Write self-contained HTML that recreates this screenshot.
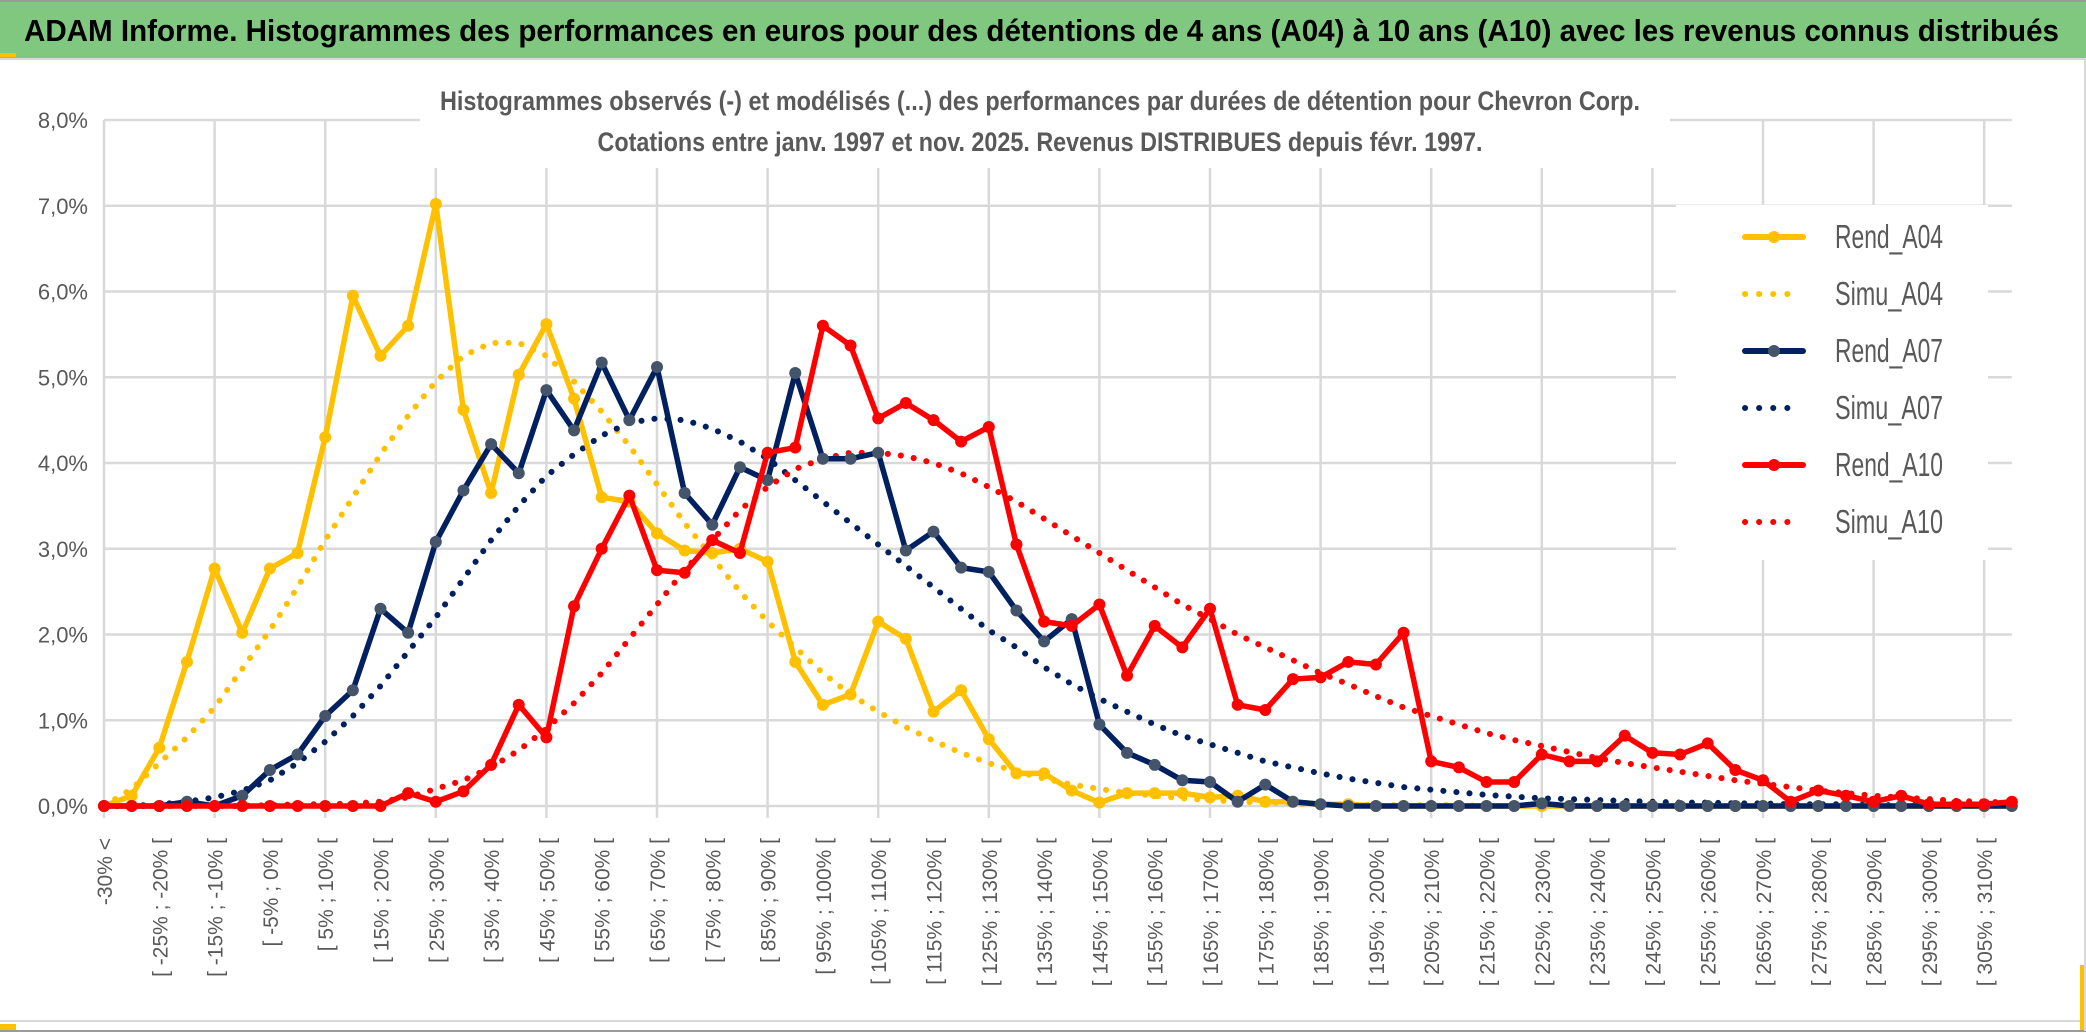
<!DOCTYPE html>
<html><head><meta charset="utf-8">
<style>
html,body{margin:0;padding:0;background:#fff;}
svg{display:block;}
text{font-family:"Liberation Sans Narrow","Liberation Sans",sans-serif;}
</style></head>
<body>
<svg id="chart" width="2086" height="1033" viewBox="0 0 2086 1033" xmlns="http://www.w3.org/2000/svg">
  <rect x="0" y="0" width="2086" height="1033" fill="#fff"/>
  <rect x="0" y="2" width="2086" height="56" fill="#80C77F"/>
  <line x1="0" y1="1" x2="2086" y2="1" stroke="#9a9a9a" stroke-width="2"/>
  <rect x="0" y="53" width="16" height="4" fill="#FFC000"/>
  <line x1="0" y1="59" x2="2086" y2="59" stroke="#d9d9d9" stroke-width="2"/>
  <text x="24" y="41" font-size="31" font-weight="bold" fill="#000" textLength="2035" lengthAdjust="spacingAndGlyphs">ADAM Informe. Histogrammes des performances en euros pour des détentions de 4 ans (A04) à 10 ans (A10) avec les revenus connus distribués</text>
  <line x1="0" y1="1021" x2="2086" y2="1021" stroke="#d9d9d9" stroke-width="2"/>
  <line x1="0" y1="1031" x2="2086" y2="1031" stroke="#9a9a9a" stroke-width="2"/>
  <rect x="0" y="1024" width="16" height="6" fill="#FFC000"/>
  <rect x="2080" y="965" width="6" height="65" fill="#FFC000"/>
  <line x1="2085" y1="58" x2="2085" y2="1031" stroke="#d9d9d9" stroke-width="2"/>
  <g id="grid"></g>
  <rect x="420" y="78" width="1250" height="90" fill="#fff"/>
  <rect x="1676" y="205" width="312" height="355" fill="#fff"/>
  <text x="1040" y="110" font-size="27" font-weight="bold" fill="#595959" text-anchor="middle" textLength="1200" lengthAdjust="spacingAndGlyphs">Histogrammes observés (-) et modélisés (...) des performances par durées de détention pour Chevron Corp.</text>
  <text x="1040" y="151" font-size="27" font-weight="bold" fill="#595959" text-anchor="middle" textLength="885" lengthAdjust="spacingAndGlyphs">Cotations entre janv. 1997 et nov. 2025. Revenus DISTRIBUES depuis févr. 1997.</text>
  <g id="yaxis"></g>
  <g id="xaxis"></g>
  <g id="series"></g>
  <g id="legend"></g>
</svg>
<script>
const categories = ["-30% <","[ -30% ; -25% [","[ -25% ; -20% [","[ -20% ; -15% [","[ -15% ; -10% [","[ -10% ; -5% [","[ -5% ; 0% [","[ 0% ; 5% [","[ 5% ; 10% [","[ 10% ; 15% [",
"[ 15% ; 20% [","[ 20% ; 25% [","[ 25% ; 30% [","[ 30% ; 35% [","[ 35% ; 40% [","[ 40% ; 45% [","[ 45% ; 50% [","[ 50% ; 55% [","[ 55% ; 60% [","[ 60% ; 65% [",
"[ 65% ; 70% [","[ 70% ; 75% [","[ 75% ; 80% [","[ 80% ; 85% [","[ 85% ; 90% [","[ 90% ; 95% [","[ 95% ; 100% [","[ 100% ; 105% [","[ 105% ; 110% [","[ 110% ; 115% [",
"[ 115% ; 120% [","[ 120% ; 125% [","[ 125% ; 130% [","[ 130% ; 135% [","[ 135% ; 140% [","[ 140% ; 145% [","[ 145% ; 150% [","[ 150% ; 155% [","[ 155% ; 160% [","[ 160% ; 165% [",
"[ 165% ; 170% [","[ 170% ; 175% [","[ 175% ; 180% [","[ 180% ; 185% [","[ 185% ; 190% [","[ 190% ; 195% [","[ 195% ; 200% [","[ 200% ; 205% [","[ 205% ; 210% [","[ 210% ; 215% [",
"[ 215% ; 220% [","[ 220% ; 225% [","[ 225% ; 230% [","[ 230% ; 235% [","[ 235% ; 240% [","[ 240% ; 245% [","[ 245% ; 250% [","[ 250% ; 255% [","[ 255% ; 260% [","[ 260% ; 265% [",
"[ 265% ; 270% [","[ 270% ; 275% [","[ 275% ; 280% [","[ 280% ; 285% [","[ 285% ; 290% [","[ 290% ; 295% [","[ 295% ; 300% [","[ 300% ; 305% [","[ 305% ; 310% [","[ 310% ; 315% ["];
const yTicks = [0,1,2,3,4,5,6,7,8];
const yTickLabels = ["0,0%","1,0%","2,0%","3,0%","4,0%","5,0%","6,0%","7,0%","8,0%"];
const rendA04 = [0,0.12,0.68,1.68,2.77,2.02,2.77,2.95,4.3,5.95,5.25,5.6,7.02,4.62,3.65,5.03,5.62,4.75,3.6,3.55,3.18,2.98,2.95,3.0,2.85,1.68,1.18,1.3,2.15,1.95,1.1,1.35,0.78,0.38,0.38,0.18,0.04,0.15,0.15,0.15,0.1,0.12,0.05,0.05,0.02,0.02,0,0,0,0,0,0,0,0,0,0,0,0,0,0,0,0,0,0,0,0,0,0,0,0];
const simuA04 = [0,0.2,0.5,0.8,1.15,1.6,2.05,2.55,3.1,3.6,4.1,4.55,4.95,5.25,5.4,5.4,5.25,4.95,4.6,4.2,3.75,3.3,2.9,2.5,2.15,1.85,1.55,1.3,1.1,0.92,0.76,0.62,0.5,0.4,0.32,0.25,0.2,0.15,0.12,0.09,0.07,0.05,0.04,0.03,0.02,0.02,0.01,0.01,0.01,0.01,0,0,0,0,0,0,0,0,0,0,0,0,0,0,0,0,0,0,0,0];
const rendA07 = [0,0,0,0.05,0,0.12,0.42,0.6,1.05,1.35,2.3,2.02,3.08,3.68,4.22,3.88,4.85,4.38,5.17,4.5,5.12,3.65,3.28,3.95,3.8,5.05,4.05,4.05,4.12,2.98,3.2,2.78,2.73,2.28,1.92,2.18,0.95,0.62,0.48,0.3,0.28,0.05,0.25,0.05,0.02,0,0,0,0,0,0,0,0.03,0,0,0,0,0,0,0,0,0,0,0,0,0,0,0,0,0];
const simuA07 = [0,0,0.02,0.05,0.1,0.18,0.3,0.5,0.75,1.05,1.4,1.8,2.2,2.65,3.1,3.5,3.85,4.1,4.32,4.47,4.52,4.5,4.4,4.25,4.05,3.8,3.55,3.3,3.05,2.8,2.55,2.3,2.05,1.85,1.62,1.42,1.25,1.1,0.95,0.82,0.72,0.62,0.52,0.45,0.38,0.32,0.27,0.22,0.19,0.16,0.13,0.11,0.09,0.08,0.07,0.06,0.05,0.04,0.04,0.03,0.03,0.02,0.02,0.02,0.01,0.01,0.01,0.01,0.01,0.01];
const rendA10 = [0,0,0,0,0,0,0,0,0,0,0,0.15,0.05,0.17,0.48,1.18,0.8,2.33,3.0,3.62,2.75,2.72,3.1,2.95,4.12,4.18,5.6,5.37,4.52,4.7,4.5,4.25,4.42,3.05,2.15,2.1,2.35,1.52,2.1,1.85,2.3,1.18,1.12,1.48,1.5,1.68,1.65,2.02,0.52,0.45,0.28,0.28,0.6,0.52,0.52,0.82,0.62,0.6,0.73,0.42,0.3,0.05,0.18,0.12,0.05,0.12,0.02,0.02,0.02,0.05];
const simuA10 = [0,0,0,0,0,0,0.01,0.02,0.02,0.03,0.05,0.1,0.2,0.3,0.45,0.65,0.9,1.2,1.55,1.95,2.35,2.75,3.1,3.45,3.72,3.93,4.05,4.12,4.12,4.08,4.0,3.88,3.72,3.55,3.35,3.15,2.95,2.75,2.55,2.35,2.18,2.0,1.85,1.7,1.55,1.42,1.28,1.15,1.05,0.95,0.85,0.77,0.7,0.63,0.56,0.5,0.45,0.4,0.35,0.3,0.26,0.22,0.18,0.15,0.12,0.1,0.08,0.06,0.05,0.04];

const NS = "http://www.w3.org/2000/svg";
const X0 = 104, STEP = 27.65, Y0 = 806, YUNIT = 85.75;
function xs(i){ return X0 + i*STEP; }
function ys(v){ return Y0 - v*YUNIT; }
function mk(tag, attrs, parent){ const e=document.createElementNS(NS,tag); for(const k in attrs) e.setAttribute(k,attrs[k]); parent.appendChild(e); return e; }

const grid = document.getElementById('grid');
yTicks.forEach((t,k)=>{
  const l = mk('line',{x1:xs(0),x2:xs(categories.length-1),y1:ys(t),y2:ys(t),stroke:'#d9d9d9','stroke-width':2.5},grid);
  
  
});
categories.forEach((c,i)=>{
  if(i%4===0){
    const l = mk('line',{x1:xs(i),x2:xs(i),y1:ys(8),y2:Y0+12,stroke:'#d9d9d9','stroke-width':2.5},grid);
    
    
  }
});

const yax = document.getElementById('yaxis');
yTicks.forEach((t,k)=>{
  const tx = mk('text',{x:88,y:ys(t)+8,'font-size':22,fill:'#595959','text-anchor':'end'},yax);
  tx.textContent = yTickLabels[k];
  
  
});
const xax = document.getElementById('xaxis');
categories.forEach((c,i)=>{
  if(i%2!==0) return;
  const x = xs(i)+8, y = 838;
  const tx = mk('text',{x:x,y:y,'font-size':21,fill:'#595959','text-anchor':'end',transform:`rotate(-90 ${x} ${y})`,style:'font-family:"Liberation Sans",sans-serif'},xax);
  tx.textContent = c;
  
  
});

const ser = document.getElementById('series');
function pts(arr){ return arr.map((v,i)=>xs(i).toFixed(1)+','+ys(v).toFixed(1)).join(' '); }
function dotted(arr,color,name){
  const p = mk('polyline',{points:pts(arr),fill:'none',stroke:color,'stroke-width':6,'stroke-linecap':'round','stroke-dasharray':'0.1 13'},ser);
  
  
}
function solid(arr,color,mcolor,name){
  const p = mk('polyline',{points:pts(arr),fill:'none',stroke:color,'stroke-width':5.5,'stroke-linejoin':'round'},ser);
  
  
  arr.forEach((v,i)=>{
    const c = mk('circle',{cx:xs(i),cy:ys(v),r:6,fill:mcolor},ser);
    
    
  });
}
dotted(simuA04,'#FFC000','simu-a04-line');
dotted(simuA07,'#002060','simu-a07-line');
dotted(simuA10,'#FF0000','simu-a10-line');
solid(rendA04,'#FFC000','#FFC000','rend-a04-line');
solid(rendA07,'#002060','#44546A','rend-a07-line');
solid(rendA10,'#FF0000','#FF0000','rend-a10-line');

const leg = document.getElementById('legend');
const legendItems = [["Rend_A04","#FFC000","#FFC000",false],["Simu_A04","#FFC000",null,true],["Rend_A07","#002060","#44546A",false],["Simu_A07","#002060",null,true],["Rend_A10","#FF0000","#FF0000",false],["Simu_A10","#FF0000",null,true]];
legendItems.forEach((it,k)=>{
  const y = 237 + k*57;
  const g = mk('g',{},leg);
  
  
  if(it[3]){
    mk('line',{x1:1745,x2:1800,y1:y,y2:y,stroke:it[1],'stroke-width':6,'stroke-linecap':'round','stroke-dasharray':'0.1 14'},g);
  } else {
    mk('line',{x1:1745,x2:1803,y1:y,y2:y,stroke:it[1],'stroke-width':6,'stroke-linecap':'round'},g);
    mk('circle',{cx:1774,cy:y,r:6,fill:it[2]},g);
  }
  const t = mk('text',{x:1835,y:y+11,'font-size':33,fill:'#595959',textLength:108,lengthAdjust:'spacingAndGlyphs'},g);
  t.textContent = it[0];
});
</script>
</body></html>
